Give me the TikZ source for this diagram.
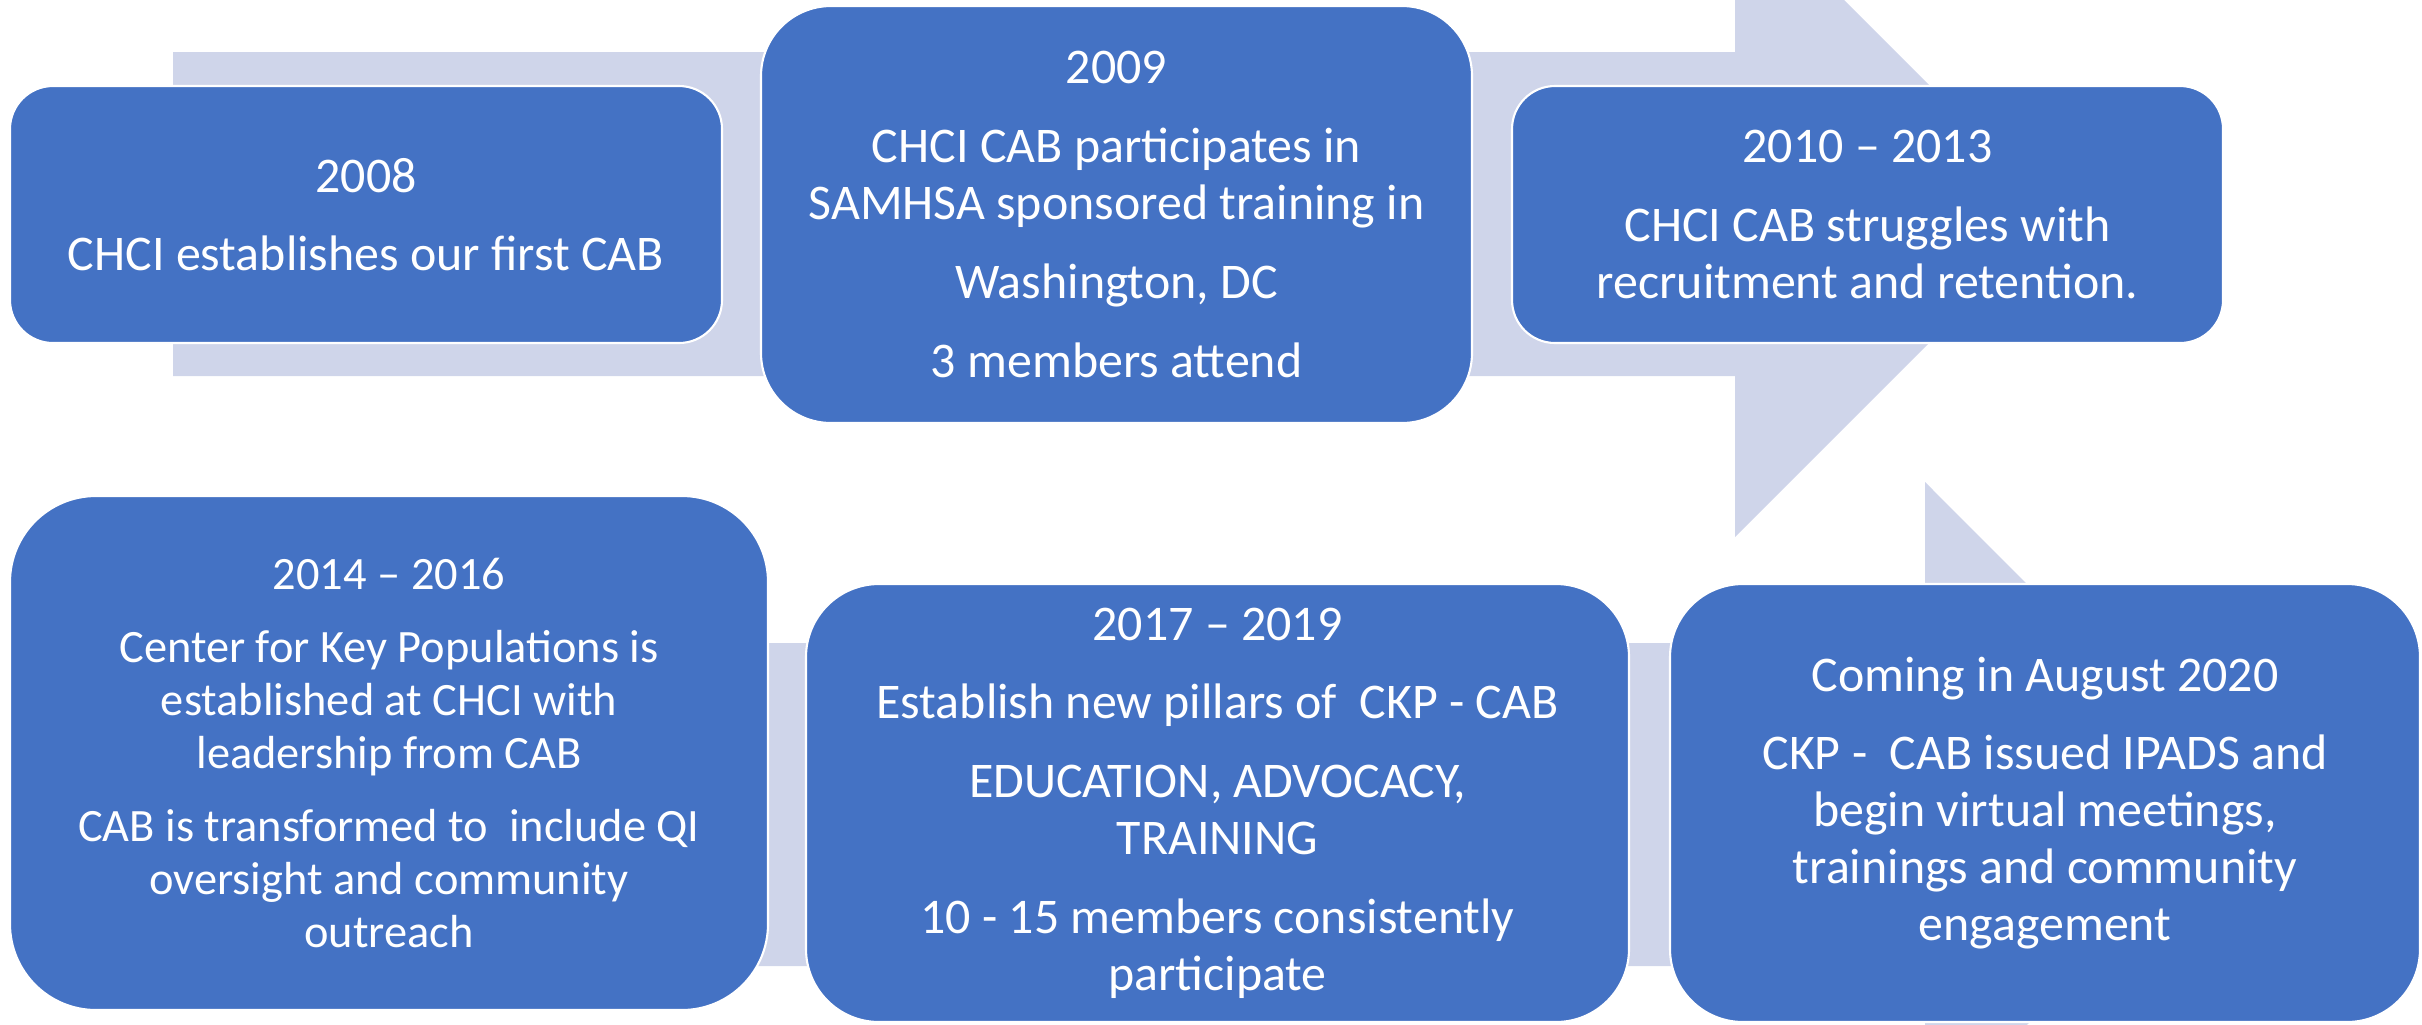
\documentclass[tikz,border=0pt]{standalone}
\usepackage{fontspec}
\setmainfont{Carlito}
\usepackage{tikz}
\usetikzlibrary{positioning}

\definecolor{boxblue}{HTML}{4472C4}
\definecolor{bandgray}{HTML}{CFD5EA}

\newcommand{\para}{\\[6.2pt]}

\begin{document}
\begin{tikzpicture}[
  evbox/.style={draw=white, line width=0.6pt, fill=boxblue, text=white, align=center,
    inner sep=0pt, font=\fontsize{14.2pt}{16.2pt}\selectfont},
  band/.style={fill=bandgray}]

  \useasboundingbox (0,0) rectangle (24.22,-10.24);
  \clip (0,0) rectangle (24.22,-10.24);

  % Upper band with arrow head
  \fill[band] (1.73,-0.52) -- (17.35,-0.52) -- (17.35,1.09) -- (20.58,-2.14)
    -- (17.35,-5.37) -- (17.35,-3.76) -- (1.73,-3.76) -- cycle;

  % Lower band with arrow head
  \fill[band] (1.73,-6.43) -- (19.25,-6.43) -- (19.25,-4.82) -- (22.47,-8.045)
    -- (19.25,-11.27) -- (19.25,-9.66) -- (1.73,-9.66) -- cycle;

  % First row
  \node[evbox, minimum width=7.12cm, minimum height=2.57cm, rounded corners=0.43cm]
    (y2008) at (3.66,-2.145) {2008\para CHCI establishes our first CAB};
  \node[evbox, minimum width=7.11cm, minimum height=4.17cm, rounded corners=0.70cm]
    (y2009) at (11.165,-2.145) {2009\para CHCI CAB participates in\\SAMHSA sponsored training in\para
      Washington, DC\para 3 members attend};
  \node[evbox, minimum width=7.11cm, minimum height=2.57cm, rounded corners=0.43cm]
    (y2010) at (18.675,-2.145) {2010 – 2013\para CHCI CAB struggles with\\recruitment and retention.};

  % Second row
  \node[evbox, minimum width=7.58cm, minimum height=5.14cm, rounded corners=0.86cm,
    font=\fontsize{13.2pt}{15.1pt}\selectfont]
    (y2014) at (3.89,-7.53) {2014 – 2016\\[5.7pt] Center for Key Populations is\\established at CHCI with\\
      leadership from CAB\\[5.7pt] CAB is transformed to\ \ include QI\\oversight and community\\outreach};
  \node[evbox, minimum width=8.23cm, minimum height=4.38cm, rounded corners=0.73cm]
    (y2017) at (12.175,-8.03) {2017 – 2019\para Establish new pillars of\ \ CKP - CAB\para
      EDUCATION, ADVOCACY,\\TRAINING\para 10 - 15 members consistently\\participate};
  \node[evbox, minimum width=7.50cm, minimum height=4.38cm, rounded corners=0.73cm]
    (y2020) at (20.45,-8.03) {Coming in August 2020\para CKP -\ \ CAB issued IPADS and\\
      begin virtual meetings,\\trainings and community\\engagement};

\end{tikzpicture}
\end{document}
